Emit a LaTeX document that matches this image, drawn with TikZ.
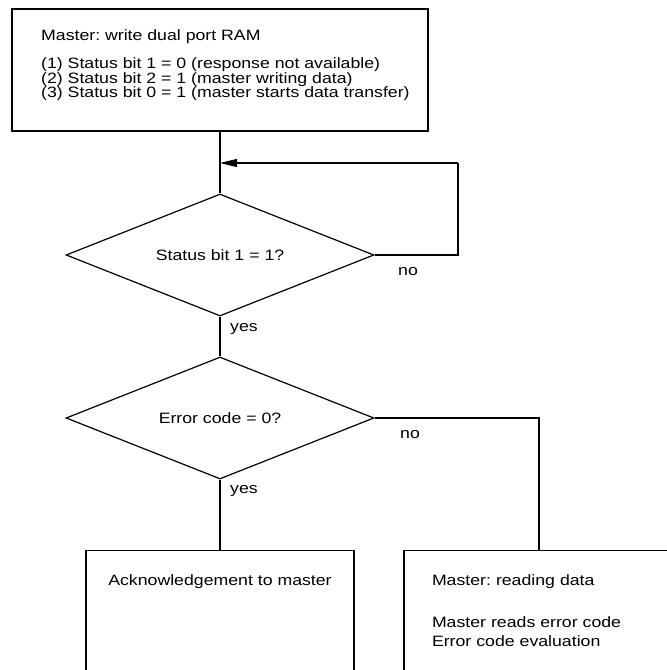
\documentclass[tikz,border=0pt]{standalone}
\usepackage{fontspec}
\setmainfont{Liberation Sans}[FakeStretch=1.18]
\usetikzlibrary{shapes.geometric,arrows.meta,positioning}
\frenchspacing

\tikzset{
	box/.style = {draw, rectangle, line width=1.2pt, inner sep=0pt},
	test/.style = {draw, diamond, aspect=2.5, line width=1.2pt, minimum width=308pt, minimum height=122pt, inner sep=2pt},
	flow/.style = {line width=1.2pt},
	txt/.style = {inner sep=0pt}
}

\begin{document}
\begin{tikzpicture}[x=1pt, y=-1pt, font=\fontsize{15pt}{14.5pt}\selectfont]
			\useasboundingbox (0,0) rectangle (667,670);
			\clip (0,0) rectangle (667,670);

			\node[box, minimum width=416pt, minimum height=122pt] (ram) at (220,70) {};
			\node[txt, anchor=north west] (ramtitle) at (41,29.5) {Master: write dual port RAM};
			\node[txt, anchor=north west, align=left] (ramsteps) at (41,57.5) {(1) Status bit 1 = 0 (response not available)\\(2) Status bit 2 = 1 (master writing data)\\(3) Status bit 0 = 1 (master starts data transfer)};

			\node[test] (busy) at (220,255) {Status bit 1 = 1?};
			\node[test] (err) at (220,418) {Error code = 0?};

			\node[box, anchor=north, minimum width=268pt, inner ysep=24pt, text depth=150pt] (ack) at (220,550) {Acknowledgement to master};
			\node[box, anchor=north, text width=214pt, inner xsep=28pt, inner ysep=24pt, align=left, text depth=150pt, font=\fontsize{15pt}{19pt}\selectfont] (read) at (539,550) {Master: reading data\\[23pt]Master reads error code\\Error code evaluation};

			\coordinate (back) at (458,163);
			\coordinate (merge) at (220,163);

			\node[txt] (no1) at (408,272) {no};
			\node[txt] (yes1) at (244,329) {yes};
			\node[txt] (no2) at (410,435) {no};
			\node[txt] (yes2) at (244,491) {yes};

			\draw[flow] (ram) -- (busy);
			\draw[flow] (busy) -- (err);
			\draw[flow] (err) -- (ack);
			\draw[flow] (busy.east) -| (back);
			\draw[flow, -{Triangle[length=17pt, width=8pt]}] (back) -- (merge);
			\draw[flow] (err.east) -| (read.north);
\end{tikzpicture}
\end{document}
